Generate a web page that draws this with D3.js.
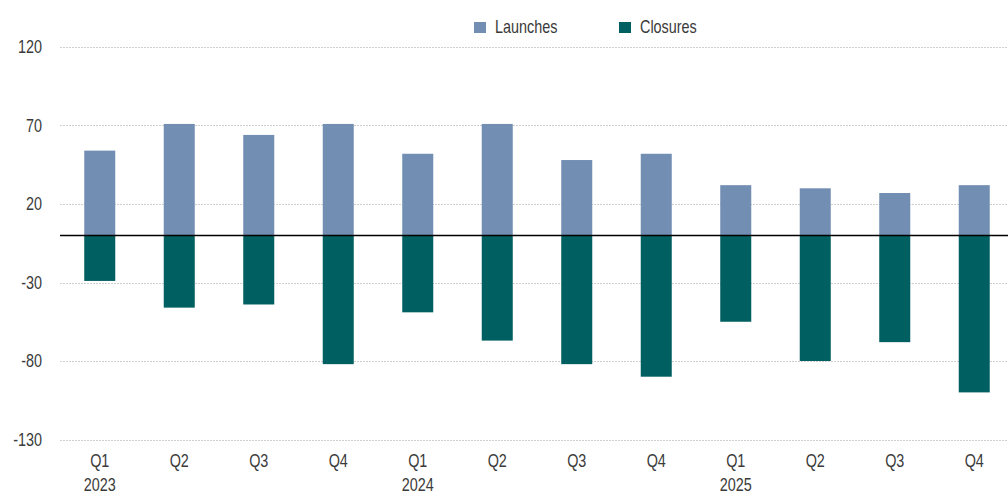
<!DOCTYPE html>
<html><head><meta charset="utf-8">
<script src="https://cdn.jsdelivr.net/npm/d3@7"></script>
<style>
body{margin:0;background:#fff;}
text{font-family:"Liberation Sans Narrow","Arial Narrow","Liberation Sans",Arial,sans-serif;fill:#3a3a3a;}
</style></head>
<body><svg id="c" width="1008" height="496"></svg>
<script>
const quarters = ["Q1","Q2","Q3","Q4","Q1","Q2","Q3","Q4","Q1","Q2","Q3","Q4"];
const years = ["2023","","","","2024","","","","2025","","",""];
const launches = [54,71,64,71,52,71,48,52,32,30,27,32];
const closures = [-29,-46,-44,-82,-49,-67,-82,-90,-55,-80,-68,-100];
const yTicks = [120,70,20,-30,-80,-130];
const seriesNames = ["Launches","Closures"];
const colors = ["#728eb2","#005f61"];

const FS = 18, SX = 0.8;
const svg = d3.select("#c");
const idx = quarters.map((d,i)=>i);
const x = d3.scaleBand().domain(idx).range([60,1014]).paddingInner(0.61).paddingOuter(0.305);
const y = d3.scaleLinear().domain([-130,120]).range([439.5,47]);

function place(sel, fx, fy){
  sel.attr("transform",(d,i)=>`translate(${fx(d,i)},${fy(d,i)}) scale(${SX},1)`)
     .attr("font-size",FS);
}

// grid
svg.append("g").selectAll("line").data(yTicks).join("line")
  .attr("x1",60).attr("x2",1008)
  .attr("y1",d=>Math.round(y(d))+0.5).attr("y2",d=>Math.round(y(d))+0.5)
  .attr("stroke","#cfcfcf").attr("stroke-width",1).attr("stroke-dasharray","2,1");

// y labels
svg.append("g").selectAll("text").data(yTicks).join("text")
  .attr("dy","0.35em").attr("text-anchor","end").text(d=>d)
  .call(place, d=>42, d=>y(d));

// bars
svg.append("g").selectAll("rect").data(launches).join("rect")
  .attr("x",(d,i)=>x(i)).attr("width",x.bandwidth())
  .attr("y",d=>y(d)).attr("height",d=>y(0)-y(d)).attr("fill",colors[0]);
svg.append("g").selectAll("rect").data(closures).join("rect")
  .attr("x",(d,i)=>x(i)).attr("width",x.bandwidth())
  .attr("y",y(0)).attr("height",d=>y(d)-y(0)).attr("fill",colors[1]);

// zero line
svg.append("line").attr("x1",60).attr("x2",1008).attr("y1",y(0)).attr("y2",y(0))
  .attr("stroke","#000").attr("stroke-width",1.5);

// x labels
const xl = svg.append("g");
xl.selectAll("text.q").data(quarters).join("text").attr("class","q")
  .attr("text-anchor","middle").attr("dy","0.35em").text(d=>d)
  .call(place, (d,i)=>x(i)+x.bandwidth()/2, ()=>461);
xl.selectAll("text.y").data(years).join("text").attr("class","y")
  .attr("text-anchor","middle").attr("dy","0.35em").text(d=>d)
  .call(place, (d,i)=>x(i)+x.bandwidth()/2, ()=>485);

// legend
const legX = [474,619];
const lg = svg.append("g");
seriesNames.forEach((n,i)=>{
  lg.append("rect").attr("x",legX[i]).attr("y",22).attr("width",12).attr("height",11).attr("fill",colors[i]);
  lg.append("text").datum(n).attr("dy","0.35em").text(n)
    .call(place, ()=>legX[i]+21, ()=>27);
});
</script></body></html>
